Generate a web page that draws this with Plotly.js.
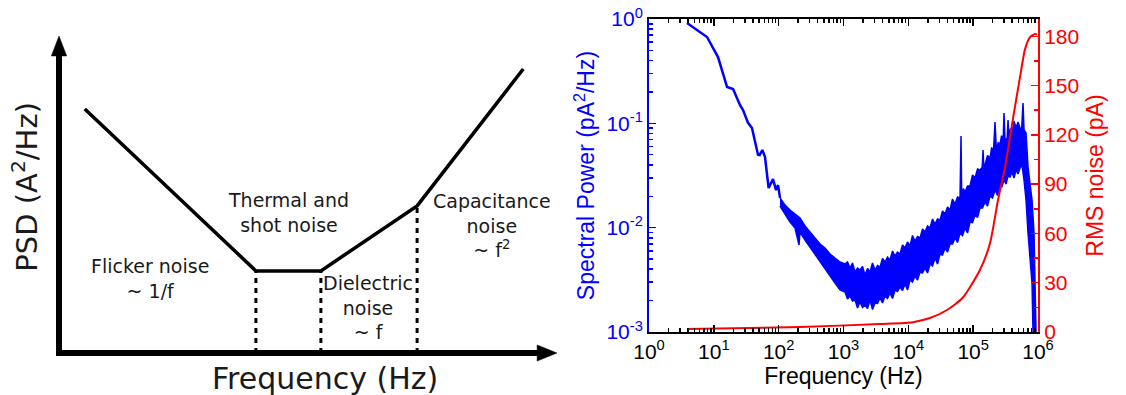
<!DOCTYPE html>
<html>
<head>
<meta charset="utf-8">
<script src="https://cdn.plot.ly/plotly-3.0.1.min.js"></script>
<style>html,body{margin:0;padding:0;background:#fff;}#chart{width:1126px;height:395px;}</style>
</head>
<body>
<div id="chart"></div>
<script>
// ---------- Left panel: schematic PSD (arbitrary units, origin at axes corner) ----------
const schematicFreq = [5.2, 39.7, 52.8, 72.2, 93.6];
const schematicPSD  = [77, 25.9, 25.9, 46.4, 89.6];
const cornerIndex   = [1, 2, 3];
const regionLabels  = ['Flicker noise<br>~ 1/f', 'Thermal and<br>shot noise', 'Dielectric<br>noise<br>~ f', 'Capacitance<br>noise<br>~ f<sup>2</sup>'];
const regionLabelX  = [18.3, 46.2, 62.3, 87.3];
const regionLabelY  = [23.5, 44.2, 14.4, 40.2];

// ---------- Right panel: measured spectrum ----------
const lowFreq  = [3.86, 7.85, 11.6, 16.0, 19.8, 25.3, 28.2, 33.7, 38.8, 48.0, 50.8, 56.0, 61.5, 70.0, 81.8, 91.0, 97.8, 104.9];
const lowPower = [0.915, 0.672, 0.432, 0.223, 0.213, 0.150, 0.134, 0.101, 0.090, 0.050, 0.0497, 0.0555, 0.0477, 0.024, 0.0292, 0.0229, 0.0256, 0.0193];

const bandUpperFreq  = [104.9, 125.2, 149.6, 178.7, 213.4, 254.9, 304.4, 363.6, 434.2, 518.6, 619.4, 739.8, 883.6, 1055, 1153, 1260, 1377, 1505, 1645, 1797, 1964, 2147, 2346, 2564, 2802, 3062, 3347, 3658, 3998, 4369, 4774, 5217, 5701, 6231, 6809, 7441, 8133, 8889, 9714, 10615, 11601, 12678, 13857, 15145, 16551, 18087, 19766, 21600, 23604, 25795, 28193, 30812, 33673, 36800, 40216, 43950, 48027, 52481, 57359, 62690, 64950, 66500, 70567, 74880, 81828, 89420, 97725, 106800, 116715, 127550, 138000, 141900, 146000, 152300, 166444, 181900, 193100, 205000, 217300, 228000, 243240, 259500, 274325, 290000, 299200, 310000, 335000, 344900, 355000, 375650, 397500, 426775, 458200, 491909, 528100, 560000, 587400, 608600, 653500, 701800, 780400, 808700, 868200, 899500, 932300];
const bandUpperPower = [0.01925, 0.0165, 0.01477, 0.01352, 0.01238, 0.01037, 0.009087, 0.007962, 0.006974, 0.006386, 0.005591, 0.005119, 0.004687, 0.004484, 0.004686, 0.004105, 0.004584, 0.003758, 0.004105, 0.003928, 0.004243, 0.003517, 0.00406, 0.003758, 0.004584, 0.003928, 0.004338, 0.004196, 0.005063, 0.004687, 0.005233, 0.004898, 0.005975, 0.005351, 0.005845, 0.005591, 0.006821, 0.006386, 0.00729, 0.006673, 0.008411, 0.007449, 0.008229, 0.007962, 0.00971, 0.009087, 0.010374, 0.009926, 0.012106, 0.01084, 0.012105, 0.01184, 0.014444, 0.01352, 0.01578, 0.01477, 0.018827, 0.01686, 0.019679, 0.01925, 0.0756, 0.0195, 0.023629, 0.02197, 0.025077, 0.02507, 0.031965, 0.02992, 0.036496, 0.0357, 0.038, 0.05552, 0.0385, 0.03988, 0.049177, 0.04653, 0.058686, 0.052, 0.103, 0.056, 0.065054, 0.06334, 0.076031, 0.067, 0.1256, 0.068, 0.073, 0.1076, 0.077, 0.089037, 0.08256, 0.105243, 0.09021, 0.102984, 0.09021, 0.088, 0.1566, 0.08632, 0.08077, 0.03815, 0.02149, 0.01841, 0.008889, 0.002948, 0.001];
const bandLowerFreq  = [104.9, 125.2, 149.6, 178.7, 205.9, 213.4, 254.9, 304.4, 363.6, 434.2, 518.6, 619.4, 739.8, 883.6, 1055, 1153, 1260, 1377, 1505, 1645, 1797, 1964, 2147, 2346, 2564, 2802, 3062, 3347, 3658, 3998, 4369, 4774, 5217, 5701, 6231, 6809, 7441, 8133, 8889, 9714, 10615, 11601, 12678, 13857, 15145, 16551, 18087, 19766, 21600, 23604, 25795, 28193, 30812, 33673, 36800, 40216, 43950, 48027, 52481, 57359, 62690, 68514, 74880, 81828, 89420, 97725, 106800, 116715, 127550, 139380, 152300, 166444, 181900, 198815, 217300, 237463, 259500, 278648, 299200, 321236, 344900, 370267, 397500, 426775, 458200, 491909, 528100, 567000, 608600, 653500, 701800, 808700, 837900];
const bandLowerPower = [0.01613, 0.01352, 0.01133, 0.009926, 0.006822, 0.009087, 0.007616, 0.006386, 0.005591, 0.004687, 0.004105, 0.003441, 0.002948, 0.002527, 0.002417, 0.002071, 0.002213, 0.001981, 0.002025, 0.001697, 0.001938, 0.001717, 0.001814, 0.001679, 0.002025, 0.001642, 0.001896, 0.001875, 0.002117, 0.001896, 0.002213, 0.002094, 0.002364, 0.002094, 0.002527, 0.002444, 0.002699, 0.002498, 0.002884, 0.002526, 0.00315, 0.003014, 0.003441, 0.00315, 0.003758, 0.003676, 0.004105, 0.003676, 0.004484, 0.00429, 0.005119, 0.004484, 0.005591, 0.00547, 0.006386, 0.005846, 0.006974, 0.006974, 0.007962, 0.007208, 0.008889, 0.008411, 0.009926, 0.008889, 0.01133, 0.011204, 0.01322, 0.012511, 0.01543, 0.015432, 0.01762, 0.016129, 0.02011, 0.019242, 0.02296, 0.020336, 0.02564, 0.0248, 0.02862, 0.026209, 0.03128, 0.030592, 0.03416, 0.029922, 0.0357, 0.032677, 0.0373, 0.03988, 0.02862, 0.01841, 0.008889, 0.002948, 0.001];

const rmsFreq  = [3.86, 36, 214, 3630, 11800, 21500, 39600, 69600, 127000, 182000, 241000, 309000, 412000, 527000, 630000, 753000, 900000, 966000];
const rmsNoise = [1.8, 2.5, 3.0, 4.9, 6, 8.5, 13.4, 21, 37.7, 54, 80, 100, 130, 155, 172, 179.5, 181.4, 181];

const xTickVals = [1, 10, 100, 1e3, 1e4, 1e5, 1e6];
const xTickText = ['10<sup>0</sup>', '10<sup>1</sup>', '10<sup>2</sup>', '10<sup>3</sup>', '10<sup>4</sup>', '10<sup>5</sup>', '10<sup>6</sup>'];
const yTickVals = [0.001, 0.01, 0.1, 1];
const yTickText = ['10<sup>-3</sup>', '10<sup>-2</sup>', '10<sup>-1</sup>', '10<sup>0</sup>'];
const rmsTickVals = [0, 30, 60, 90, 120, 150, 180];

function minorLog(lo, hi) {
  const v = [];
  for (let e = lo; e < hi; e++) for (let d = 2; d <= 9; d++) v.push(d * Math.pow(10, e));
  return v;
}

const BLUE = '#0000ff', RED = '#ff0000', INK = '#1a1a1a';
const schemFont = 'DejaVu Sans, Verdana, sans-serif';
const arialFont = 'Liberation Sans, Arial, sans-serif';

const traces = [];

// schematic axes (arrows)
traces.push({x: [0, 0], y: [-0.95, 94.5], xaxis: 'x2', yaxis: 'y3', mode: 'lines', line: {color: '#000', width: 6}, hoverinfo: 'skip'});
traces.push({x: [-0.6, 97], y: [0, 0], xaxis: 'x2', yaxis: 'y3', mode: 'lines', line: {color: '#000', width: 6}, hoverinfo: 'skip'});
traces.push({x: [-1.55, 1.55, 0, -1.55], y: [93.7, 93.7, 100, 93.7], xaxis: 'x2', yaxis: 'y3', mode: 'lines', fill: 'toself', fillcolor: '#000', line: {color: '#000', width: 0.5}, hoverinfo: 'skip'});
traces.push({x: [96.4, 96.4, 100.4, 96.4], y: [-2.55, 2.55, 0, -2.55], xaxis: 'x2', yaxis: 'y3', mode: 'lines', fill: 'toself', fillcolor: '#000', line: {color: '#000', width: 0.5}, hoverinfo: 'skip'});
// dashed corner markers
cornerIndex.forEach(i => {
  traces.push({x: [schematicFreq[i], schematicFreq[i]], y: [0, schematicPSD[i]], xaxis: 'x2', yaxis: 'y3', mode: 'lines', line: {color: '#000', width: 3, dash: '5px,5px'}, hoverinfo: 'skip'});
});
// schematic curve
traces.push({x: schematicFreq, y: schematicPSD, xaxis: 'x2', yaxis: 'y3', mode: 'lines', line: {color: '#000', width: 3.5}, hoverinfo: 'skip'});

// measured PSD: noise band + low-frequency line
traces.push({
  x: bandUpperFreq.concat(bandLowerFreq.slice().reverse()),
  y: bandUpperPower.concat(bandLowerPower.slice().reverse()),
  xaxis: 'x', yaxis: 'y', mode: 'lines', fill: 'toself', fillcolor: BLUE,
  line: {color: BLUE, width: 1.5}, hoverinfo: 'skip'
});
traces.push({x: lowFreq, y: lowPower, xaxis: 'x', yaxis: 'y', mode: 'lines', line: {color: BLUE, width: 2.5}, hoverinfo: 'skip'});
// RMS noise
traces.push({x: rmsFreq, y: rmsNoise, xaxis: 'x', yaxis: 'y2', mode: 'lines', line: {color: RED, width: 2, shape: 'spline', smoothing: 0.6}, hoverinfo: 'skip'});

const annotations = regionLabels.map((t, i) => ({
  text: t, x: regionLabelX[i], y: regionLabelY[i], xref: 'x2', yref: 'y3',
  showarrow: false, font: {family: schemFont, size: 19, color: INK}, align: 'center'
}));
annotations.push({text: 'PSD (A<sup>2</sup>/Hz)', x: -6.9, y: 52.4, xref: 'x2', yref: 'y3', textangle: -90, showarrow: false, font: {family: schemFont, size: 29, color: INK}});
annotations.push({text: 'Frequency (Hz)', x: 53.6, y: -7.9, xref: 'x2', yref: 'y3', showarrow: false, font: {family: schemFont, size: 30, color: INK}});

const layout = {
  width: 1126, height: 395,
  margin: {l: 0, r: 0, t: 0, b: 0, pad: 0},
  paper_bgcolor: '#fff', plot_bgcolor: 'rgba(0,0,0,0)',
  showlegend: false,
  font: {family: arialFont},
  xaxis: {
    domain: [649 / 1126, 1038 / 1126], anchor: 'y', type: 'log', range: [0, 6],
    showline: true, linecolor: '#000', linewidth: 2, mirror: 'ticks',
    ticks: 'inside', ticklen: 7, tickwidth: 1.5, tickcolor: '#000',
    tickmode: 'array', tickvals: xTickVals, ticktext: xTickText,
    tickfont: {family: arialFont, size: 21, color: '#000'},
    showgrid: false, zeroline: false,
    minor: {tickmode: 'array', tickvals: minorLog(0, 6), ticks: 'inside', ticklen: 4, tickwidth: 1.5, tickcolor: '#000', showgrid: false},
    title: {text: 'Frequency (Hz)', font: {family: arialFont, size: 23, color: '#000'}, standoff: 4}
  },
  yaxis: {
    domain: [1 - 332 / 395, 1 - 19 / 395], anchor: 'x', type: 'log', range: [-3, 0],
    showline: true, linecolor: BLUE, linewidth: 2,
    ticks: 'inside', ticklen: 7, tickwidth: 1.5, tickcolor: BLUE,
    tickmode: 'array', tickvals: yTickVals, ticktext: yTickText,
    tickfont: {family: arialFont, size: 21, color: BLUE},
    showgrid: false, zeroline: false,
    minor: {tickmode: 'array', tickvals: minorLog(-3, 0), ticks: 'inside', ticklen: 4, tickwidth: 1.5, tickcolor: BLUE, showgrid: false},
    title: {text: 'Spectral Power (pA<sup>2</sup>/Hz)', font: {family: arialFont, size: 23, color: BLUE}, standoff: 5}
  },
  yaxis2: {
    overlaying: 'y', side: 'right', anchor: 'x', range: [0, 190.5],
    showline: true, linecolor: RED, linewidth: 2,
    ticks: 'inside', ticklen: 7, tickwidth: 1.5, tickcolor: RED,
    tickmode: 'array', tickvals: rmsTickVals,
    tickfont: {family: arialFont, size: 21, color: RED},
    showgrid: false, zeroline: false,
    minor: {dtick: 15, ticks: 'inside', ticklen: 4, tickwidth: 1.5, tickcolor: RED, showgrid: false},
    title: {text: 'RMS noise (pA)', font: {family: arialFont, size: 23, color: RED}, standoff: 9}
  },
  xaxis2: {domain: [0, 0.5], anchor: 'y3', range: [-11.895, 101.613], visible: false, fixedrange: true},
  yaxis3: {domain: [0, 1], anchor: 'x2', range: [-13.249, 111.356], visible: false, fixedrange: true},
  annotations: annotations
};

Plotly.newPlot('chart', traces, layout, {staticPlot: true, displayModeBar: false});
</script>
</body>
</html>
